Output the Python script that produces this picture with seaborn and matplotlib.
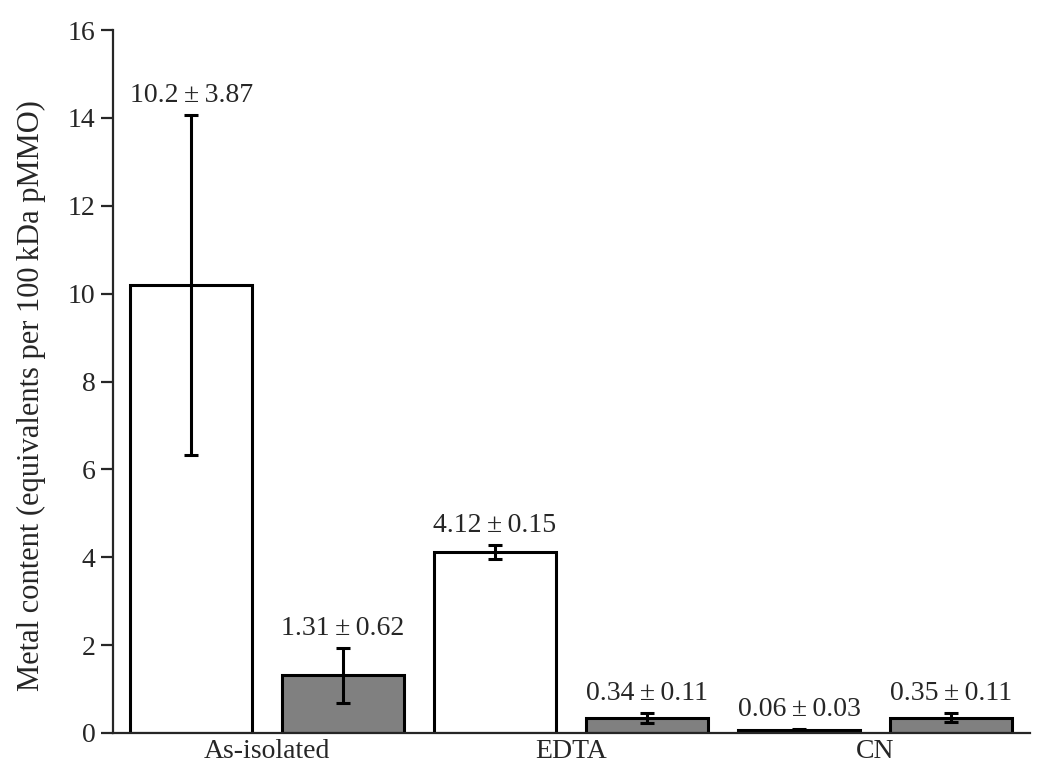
import pandas as pd
import numpy as np
import matplotlib.pyplot as plt
import seaborn as sns

sns.set_style("ticks")
plt.rcParams['font.family'] = ['Liberation Serif', 'DejaVu Serif']

# =========================
# DATA
# =========================
treatments = ["As-isolated", "EDTA", "CN"]
metals = ["Cu", "Fe"]
cu_mean = [10.2, 4.12, 0.06]
cu_err = [3.87, 0.15, 0.03]
fe_mean = [1.31, 0.34, 0.35]
fe_err = [0.62, 0.11, 0.11]
cu_labels = ["10.2", "4.12", "0.06"]
fe_labels = ["1.31", "0.34", "0.35"]
cu_err_labels = ["3.87", "0.15", "0.03"]
fe_err_labels = ["0.62", "0.11", "0.11"]

df = pd.DataFrame({
    "treatment": treatments * 2,
    "metal": ["Cu"] * 3 + ["Fe"] * 3,
    "content": cu_mean + fe_mean,
})

# =========================
# PLOT
# =========================
fig = plt.figure(figsize=(10.5, 7.68), dpi=100)
ax = fig.add_axes([113 / 1050, 1 - 733 / 768, (1030 - 113) / 1050, (733 - 30) / 768])

sns.barplot(data=df, x="treatment", y="content", hue="metal",
            order=treatments, hue_order=metals,
            palette={"Cu": "white", "Fe": "#808080"},
            edgecolor="black", linewidth=2.2, width=1.0, gap=0.2,
            errorbar=None, legend=False, ax=ax)

errs = [cu_err, fe_err]
means = [cu_mean, fe_mean]
labs = [cu_labels, fe_labels]
elabs = [cu_err_labels, fe_err_labels]
for cont, m, e, l, el in zip(ax.containers, means, errs, labs, elabs):
    xs = [p.get_x() + p.get_width() / 2 for p in cont.patches]
    ax.errorbar(xs, m, yerr=e, fmt="none", ecolor="black",
                elinewidth=2.2, capsize=5, capthick=2.2)
    for x, mv, ev, lt, et in zip(xs, m, e, l, el):
        ax.annotate(f"{lt}\u2009\u00b1\u2009{et}", (x, mv + ev),
                    xytext=(0, 14), textcoords="offset points",
                    ha="center", va="center", fontsize=20)

ax.set_ylim(0, 16)
ax.set_xlim(-0.507, 2.51)
ax.set_yticks(np.arange(0, 17, 2))
ax.set_xlabel("")
ax.set_ylabel("Metal content (equivalents per 100\u2009kDa pMMO)", fontsize=22)
ax.yaxis.set_label_coords(-0.073, 0.48)
ax.tick_params(axis="y", direction="out", length=9, width=1.6, labelsize=20)
ax.tick_params(axis="x", length=0, labelsize=20, pad=4)
for s in ["top", "right"]:
    ax.spines[s].set_visible(False)
for s in ["left", "bottom"]:
    ax.spines[s].set_linewidth(1.6)

fig.savefig("out.png", dpi=100)
